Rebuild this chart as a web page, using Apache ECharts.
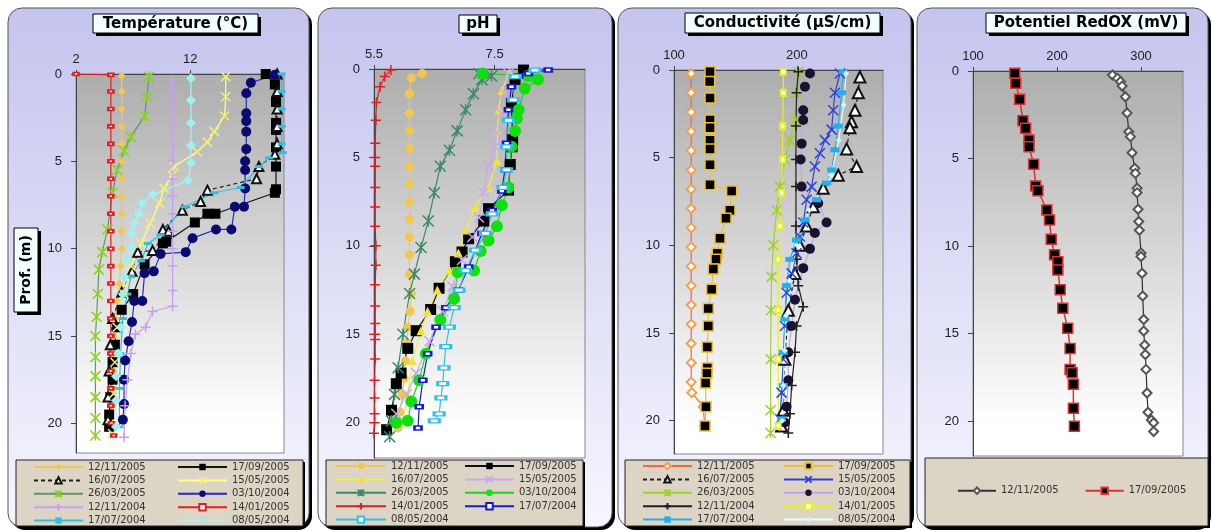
<!DOCTYPE html>
<html><head><meta charset="utf-8">
<script src="https://cdn.jsdelivr.net/npm/echarts@6/dist/echarts.min.js"></script>
<style>html,body{margin:0;padding:0;background:#fff}#c{width:1212px;height:531px}</style>
</head><body><div id="c"></div>
<script>
// ---------- DATA ----------
const tempTicks = [2, 12];
const phTicks = [5.5, 7.5];
const condTicks = [100, 200];
const redoxTicks = [100, 200, 300];
const depthTicks = [0, 5, 10, 15, 20];

const tempDates = ['12/11/2005','17/09/2005','16/07/2005','15/05/2005','26/03/2005','03/10/2004','12/11/2004','14/01/2005','17/07/2004','08/05/2004'];
const phDates   = ['12/11/2005','17/09/2005','16/07/2005','15/05/2005','26/03/2005','03/10/2004','14/01/2005','17/07/2004','08/05/2004'];
const condDates = ['12/11/2005','17/09/2005','16/07/2005','15/05/2005','26/03/2005','03/10/2004','12/11/2004','14/01/2005','17/07/2004','08/05/2004'];
const redoxDates = ['12/11/2005','17/09/2005'];

// Temperature (°C) vs depth (m)
const t1d = [0.1,1,2,3,4,5,6,7,8,9,10,11,12,13,14,15,16,17,18,19,20.3];
const t1v = [6.0,6.0,6.0,6.0,6.0,6.0,6.0,6.0,6.0,6.0,6.0,5.9,5.8,5.6,5.4,5.3,5.3,5.3,5.2,5.2,5.2];
const t2d = [0,0.6,1.6,2.8,3.2,4.2,5.3,6.6,6.8,8.0,8.0,8.5,9.6,9.7,10.9,12.6,13.5,14.5,15.5,16.5,17.5,18.5,19.5,20.2];
const t2v = [18.6,19.4,19.5,19.5,19.5,19.5,19.5,19.5,19.4,14.2,13.5,12.4,9.9,9.6,8.0,7.0,6.0,5.6,5.4,5.2,5.2,5.0,4.9,4.9];
const t3d = [0,1,2,3,4,4.6,5.3,6.0,6.65,7.3,7.8,8.9,9.0,10.1,10.2,11.3,12.5,14,15.5,17,18.5,19.8];
const t3v = [19.6,19.6,19.6,19.6,19.6,19.4,18.0,17.8,13.5,12.9,11.3,9.6,10.1,8.7,7.4,6.9,6.0,5.2,5.0,4.9,4.8,4.8];
const t4d = [0.15,1.3,2.4,3.3,3.9,4.45,5.3,5.8,6.55,7.4,8.55,9.7,11,12.6,14.5,16.5,18.3,20.6];
const t4v = [15.1,15.1,15.0,14.1,13.5,12.6,10.6,10.4,9.7,9.3,8.5,7.7,6.8,6.2,5.6,5.4,5.3,5.2];
const t5d = [0.15,1.3,2.4,3.6,4.4,5.5,6.8,8.9,10.2,11.2,12.6,13.9,15,16.2,17.3,18.5,19.7,20.7];
const t5v = [8.4,8.2,8.0,6.8,6.2,5.6,5.2,4.75,4.3,4.0,3.9,3.8,3.7,3.7,3.7,3.7,3.7,3.7];
const t6d = [0.05,0.5,1.1,2.25,2.7,3.3,4.3,5.0,5.5,6.55,7.6,7.6,8.9,8.9,9.4,10.2,10.3,11.3,11.4,13.0,13.0,14.2,15.3,16.4,17.5,18.9,19.8];
const t6v = [19.4,17.3,16.9,16.9,16.9,16.9,16.9,16.8,16.8,16.8,16.7,15.9,15.6,14.25,12.2,11.6,9.4,8.8,8.0,7.8,7.1,6.9,6.6,6.3,6.2,6.2,6.1];
const t7d = [0.35,1,2,3,4,5,6,7,8,9,10,11,12.4,13.3,13.6,14.5,14.9,16,17.5,19,20.8];
const t7v = [10.45,10.45,10.45,10.45,10.45,10.45,10.45,10.45,10.45,10.45,10.45,10.45,10.45,10.45,8.7,8.1,7.2,6.8,6.5,6.3,6.2];
const t8d = [0,0.05,1,2,3,4,5,6,7,8,9,10,11,12,13,14,15,16,17,18,19,20,20.7];
const t8v = [2.0,5.05,5.05,5.05,5.05,5.05,5.05,5.05,5.05,5.05,5.05,5.05,5.05,5.05,5.05,5.05,5.05,5.05,5.05,5.05,5.05,5.1,5.3];
const t9d = [0,1,2,3,4,4.5,4.8,5.3,6.5,6.8,7.6,9.2,9.7,10.7,11.6,12.6,14,16,18,20.2];
const t9v = [20.0,20.0,20.0,20.0,20.0,20.1,18.9,18.0,16.4,14.1,11.5,9.4,8.3,7.7,6.8,6.5,6.1,5.9,5.8,5.8];
const t10d = [0.25,1.5,2.8,4.1,5.1,6.1,6.9,7.4,8.0,8.55,9.1,9.9,10.65,11.6,12.6,14.5,16,17.3,18.7,20.2];
const t10v = [12.05,12.05,12.05,12.05,12.05,11.8,8.7,7.8,7.5,7.1,6.9,6.8,6.5,6.2,6.1,5.9,5.7,5.5,5.5,5.5];

// pH vs depth
const p1d = [0.25,0.5,1.4,2.5,3.5,4.5,5.5,6.5,7.5,8.5,9.5,10.5,11.6,12.7,13.7,14.6,15.5,16.5,17.5,18.4,19.4,20.3];
const p1v = [6.3,6.12,6.09,6.09,6.09,6.09,6.09,6.09,6.09,6.09,6.09,6.09,6.09,6.12,6.1,6.06,6.05,6.02,6.0,5.97,5.93,5.9];
const p2d = [0.06,0.6,1.95,4.0,4.4,5.4,6.85,7.9,8.6,9.6,10.35,10.9,12.4,13.6,14.8,15.8,17.2,17.8,19.3,20.4];
const p2v = [7.98,7.84,7.78,7.8,7.79,7.76,7.73,7.4,7.32,7.07,6.96,6.85,6.58,6.44,6.2,6.06,5.95,5.87,5.79,5.71];
const p3d = [0.2,1.2,2.3,3.5,5.2,6.7,7.8,9.1,10.4,11.4,12.5,13.7,14.8,16.5,18.4,19.9];
const p3v = [7.75,7.62,7.57,7.55,7.54,7.4,7.18,7.02,6.9,6.75,6.55,6.39,6.28,6.14,6.06,5.98];
const p4d = [0.25,1.4,2.5,3.6,4.4,5.5,7.0,8.4,9.5,10.8,12.3,13.7,15.4,17.2,18.4,19.5];
const p4v = [7.73,7.67,7.62,7.54,7.51,7.4,7.32,7.24,7.13,6.96,6.8,6.64,6.42,6.2,6.04,5.87];
const p5d = [0.25,0.4,0.6,1.4,2.3,3.5,4.6,5.5,7.0,8.6,10.1,11.6,12.7,15,16.9,18.4,19.9,20.8];
const p5v = [7.24,7.45,7.29,7.15,7.02,6.88,6.75,6.6,6.5,6.4,6.28,6.17,6.09,5.98,5.9,5.84,5.79,5.76];
const p6d = [0.25,0.4,0.6,1.1,2.3,2.8,3.5,4.4,6.7,7.7,8.9,9.7,10.3,11.4,11.5,13,14.2,16.1,17.6,18.8,19.9,20.0];
const p6v = [7.3,8.06,8.22,8.0,7.9,7.87,7.84,7.78,7.73,7.62,7.54,7.4,7.27,7.16,6.89,6.83,6.6,6.36,6.25,6.12,6.06,5.87];
const p7d = [0.06,0.43,1.0,1.9,2.9,4.2,5.0,5.5,6.7,7.8,8.9,10.0,11.1,12.2,13.4,14.4,15.0,15.3,16.4,17.6,18.6,19.5,20.0,20.6];
const p7v = [5.78,5.68,5.6,5.54,5.53,5.52,5.52,5.52,5.52,5.52,5.52,5.53,5.53,5.52,5.52,5.52,5.52,5.52,5.52,5.51,5.51,5.51,5.51,5.5];
const p8d = [0.06,0.25,0.4,1.0,2.3,4.2,5.7,6.9,8.0,9.3,11.2,12.5,13.5,14.6,16.1,17.6,19.1,20.3];
const p8v = [8.39,8.06,7.9,7.78,7.73,7.7,7.67,7.62,7.46,7.29,7.07,6.9,6.69,6.53,6.39,6.31,6.25,6.23];
const p9d = [0.06,0.43,1.75,2.9,4.4,5.7,6.7,8.2,9.3,10.25,11.4,12.5,13.5,14.6,15.7,16.9,17.8,18.6,19.5,19.9];
const p9v = [8.17,7.84,7.81,7.73,7.7,7.7,7.64,7.46,7.35,7.18,7.02,6.91,6.83,6.75,6.69,6.66,6.64,6.61,6.58,6.5];

// Conductivity (µS/cm) vs depth
const c1d = [0.2,1.3,2.4,3.5,4.6,5.7,6.8,7.9,9.0,10.1,11.2,12.3,13.4,14.5,15.6,16.7,17.8,18.4,19.2,20.3];
const c1v = [114,114,114,114,114,114,114,114,114,114,114,114,114,114,114,114,114,114.5,123.8,125];
const c2d = [0.1,0.66,1.6,2.85,3.3,4.0,4.5,5.4,6.55,6.9,8.0,8.45,9.6,10.45,10.8,11.35,12.5,13.6,14.6,15.8,17.0,17.3,17.85,19.2,20.3];
const c2v = [129.3,129,129.3,129.3,129.3,129.3,129.3,129.3,129.3,146.9,145.5,142.3,137.4,135.2,134.2,132,130.6,127.9,127.9,127.1,127.1,126.8,125.7,126,125.2];
const c3d = [0.4,1.3,2.3,2.95,3.3,4.5,5.5,6.0,6.75,7.8,8.9,10,11.6,13.7,16.5,19.4,20.3];
const c3v = [251.2,249.9,247.2,244.4,243.1,240.4,248.5,233.6,221.4,213.3,207.9,202.4,198.4,193,190.2,188.9,187.5];
const c4d = [0.2,1.3,2.3,3.4,4.0,4.75,5.5,6.65,7.4,8.7,9.5,10.45,11.6,12.7,14.6,16.5,18.4,19.9];
const c4v = [235,230.9,229.5,228.2,222.8,218.7,214.6,211.9,207.9,205.1,202.4,199.7,195.7,191.6,190.2,188.9,187.5,186.2];
const c5d = [0.1,1.3,2.85,4.0,5.1,6.65,8.0,10,11.8,13.7,16.5,19.4,20.7];
const c5v = [201,199.7,198.4,194.3,190.2,186.2,183.5,180.8,179.4,178.9,178.6,178.6,178.6];
const c6d = [0.2,0.95,2.3,2.85,4.2,5.1,6.65,7.6,8.7,9.3,10.2,11.3,13.1,14.6,16.1,17.7,19.2,20.1];
const c6v = [210.6,206.5,205.1,205.1,203.8,203,203.8,217.3,224.1,214.6,210.6,205.1,198.4,195.7,193,193,191.6,190.2];
const c7d = [0.1,1.3,3.2,5.1,6.65,8.9,10.8,12.3,13.5,14.6,16.1,18,19.6,20.7];
const c7v = [201.1,199.7,199.2,199.2,199.2,199.2,199.7,201.1,205.1,199.7,198.4,195.7,194.3,193];
const c8d = [0.1,1.3,3.2,5.1,7.0,8.9,10.8,13.7,16.5,20.3];
const c8v = [188.9,188.9,188.3,188.3,187.5,186.2,184.8,184.8,184.8,184.8];
const c9d = [0.1,1.3,3.2,4.55,5.7,6.45,7.4,8.55,9.7,10.8,12.3,14.2,16.1,18,19.9];
const c9v = [237.7,236.3,233.6,230.9,228.2,224.1,216,206.5,199.7,194.3,191.6,190.2,188.9,188.9,187.5];
const c10d = [0.2,2,4,6,8,10,12,14,16,18,20];
const c10v = [240,238,234,228,210,200,194,191,190,189,188];

// Potentiel RedOX (mV) vs depth
const r1d = [0.23,0.42,0.6,0.86,1.47,2.4,3.47,3.75,4.67,5.56,5.85,6.7,6.95,7.9,8.6,9.1,10.4,10.6,11.56,12.86,14.2,14.86,15.66,16.2,17.05,18.4,19.5,19.94,20.1,20.6];
const r1v = [266,272,275.6,277.5,281.4,283.4,285.4,287.4,289.3,292.5,293.3,295.3,295.3,296.5,297.3,298,300,300,301.2,302,303.2,303.2,304.4,305.2,306,307.2,308.3,312.3,315,315];
const r2d = [0.13,0.7,1.62,2.84,3.27,3.94,4.33,5.33,6.57,6.84,7.94,8.51,9.62,10.5,10.9,11.37,12.5,13.56,14.7,15.85,17.05,17.24,17.9,19.27,20.3];
const r2v = [149.7,150.9,155.6,159.5,162.7,166.7,166.7,172.2,174.6,177.3,188,191.1,193.1,197.1,201,201,203.8,206.9,212.8,215.6,215.6,218,219.5,219.5,220.7];

const tempSeries = [[t1v,t1d],[t2v,t2d],[t3v,t3d],[t4v,t4d],[t5v,t5d],[t6v,t6d],[t7v,t7d],[t8v,t8d],[t9v,t9d],[t10v,t10d]];
const phSeries = [[p1v,p1d],[p2v,p2d],[p3v,p3d],[p4v,p4d],[p5v,p5d],[p6v,p6d],[p7v,p7d],[p8v,p8d],[p9v,p9d]];
const condSeries = [[c1v,c1d],[c2v,c2d],[c3v,c3d],[c4v,c4d],[c5v,c5d],[c6v,c6d],[c7v,c7d],[c8v,c8d],[c9v,c9d],[c10v,c10d]];
const redoxSeries = [[r1v,r1d],[r2v,r2d]];

// ---------- STYLES ----------
const X = 'path://M0,0L10,10M10,0L0,10';
const PLUS = 'path://M5,0L5,10M0,5L10,5';
const STAR = 'path://M0,0L10,10M10,0L0,10M5,0L5,10';

const tempStyle = {
  '12/11/2005': {line:'#f0c850', sym:'diamond', size:8, fill:'#f0c850'},
  '17/09/2005': {line:'#111', sym:'rect', size:10, fill:'#000'},
  '16/07/2005': {line:'#222', dash:true, sym:'emptyTriangle', size:9, fill:'#111', bw:1},
  '15/05/2005': {line:'#ffff88', sym:X, size:9, fill:'#f4f070', bw:1.5},
  '26/03/2005': {line:'#5a9a70', sym:STAR, size:10, fill:'#8cd020', bw:1.5},
  '03/10/2004': {line:'#2828c8', sym:'circle', size:10, fill:'#0a0a70'},
  '12/11/2004': {line:'#c8a0f0', sym:PLUS, size:10, fill:'#c8a0f0', bw:1.5},
  '14/01/2005': {line:'#e02020', sym:'emptyRect', size:[5,3], fill:'#e02020', bw:1},
  '17/07/2004': {line:'#30c0e0', sym:'rect', size:[8,3], fill:'#30c0e0'},
  '08/05/2004': {line:'#b0f0f0', sym:'diamond', size:10, fill:'#a0f0f0'}
};
const phStyle = {
  '12/11/2005': {line:'#f0c850', sym:'circle', size:9, fill:'#f0c850'},
  '17/09/2005': {line:'#111', sym:'rect', size:11, fill:'#000'},
  '16/07/2005': {line:'#f0f040', sym:'triangle', size:9, fill:'#f0e040'},
  '15/05/2005': {line:'#c8a8f0', sym:X, size:10, fill:'#c8a8f0', bw:1.5},
  '26/03/2005': {line:'#3a8a6a', sym:STAR, size:11, fill:'#3a8a6a', bw:1.5},
  '03/10/2004': {line:'#20d020', sym:'circle', size:12, fill:'#10e010'},
  '14/01/2005': {line:'#d02020', sym:PLUS, size:10, fill:'#e02020', bw:1.5},
  '17/07/2004': {line:'#1818d0', sym:'emptyRect', size:[7,4], fill:'#1818d0', bw:1},
  '08/05/2004': {line:'#30c0e8', sym:'emptyRect', size:[10,4], fill:'#30c0e8', bw:1}
};
const condStyle = {
  '12/11/2005': {line:'#f06840', sym:'emptyDiamond', size:9, fill:'#f0a050', bw:1},
  '17/09/2005': {line:'#f0c030', sym:'rect', size:10, fill:'#000', stroke:'#f0c030', bw:1.5},
  '16/07/2005': {line:'#222', dash:true, sym:'emptyTriangle', size:11, fill:'#111', bw:1},
  '15/05/2005': {line:'#3040e0', sym:X, size:10, fill:'#3040e0', bw:1.5},
  '26/03/2005': {line:'#a0d030', sym:STAR, size:10, fill:'#a0d030', bw:1.5},
  '03/10/2004': {line:'#b8a8e8', sym:'circle', size:10, fill:'#1a1030'},
  '12/11/2004': {line:'#202020', sym:PLUS, size:10, fill:'#202020', bw:1.5},
  '14/01/2005': {line:'#e8f020', sym:'emptyRect', size:[5,6], fill:'#e8f020', bw:1},
  '17/07/2004': {line:'#20b0f0', sym:'rect', size:[9,5], fill:'#20b0f0'},
  '08/05/2004': {line:'#e0ffff', sym:'diamond', size:6, fill:'#d0f8f8'}
};
const redoxStyle = {
  '12/11/2005': {line:'#303030', sym:'emptyDiamond', size:9, fill:'#555', bw:1},
  '17/09/2005': {line:'#e03030', lw:1.5, sym:'rect', size:10, fill:'#000', stroke:'#e03030', bw:1.5}
};

// ---------- BUILD ----------
function mkSeries(grid, key, dates, sets, styles) {
  return dates.map((d, i) => {
    const st = styles[d];
    const vals = sets[i][0], deps = sets[i][1];
    return {
      type:'line', name:key + '|' + d, xAxisIndex:grid, yAxisIndex:grid,
      data: vals.map((v, j) => [v, deps[j]]),
      symbol: st.sym, symbolSize: st.size, showSymbol:true,
      lineStyle:{color:st.line, width:st.lw || 1.2, type: st.dash ? [4,3] : 'solid'},
      itemStyle:{color:st.fill, borderColor:st.stroke || st.fill, borderWidth:st.bw || 0},
      emphasis:{disabled:true}, silent:true, clip:true, animation:false
    };
  });
}
const AX = '#444';
function xAx(grid, min, max, interval) {
  return {type:'value', gridIndex:grid, position:'top', min:min, max:max, interval:interval,
    axisLine:{show:true, onZero:false, lineStyle:{color:AX}},
    axisTick:{show:true, length:4, lineStyle:{color:AX}},
    axisLabel:{margin:8, color:'#222', fontSize:13, fontFamily:'Liberation Sans', showMaxLabel:false,
      formatter: v => String(v)},
    splitLine:{show:false}};
}
function yAx(grid, max) {
  return {type:'value', gridIndex:grid, inverse:true, min:0, max:max, interval:5,
    axisLine:{show:true, onZero:false, lineStyle:{color:AX}},
    axisTick:{show:true, length:5, lineStyle:{color:AX}},
    axisLabel:{margin:14, color:'#222', fontSize:13, fontFamily:'Liberation Sans', showMaxLabel:false},
    splitLine:{show:false}};
}
const plotBg = new echarts.graphic.LinearGradient(0,0,0,1,[{offset:0,color:'#adadad'},{offset:0.92,color:'#ffffff'},{offset:1,color:'#ffffff'}]);
function grid(l, t, w, h) {
  return {left:l, top:t, width:w, height:h, show:true, backgroundColor:plotBg, borderColor:'#888', borderWidth:1, containLabel:false};
}
function leg(left, top, key, names, iw, orient, gap) {
  return {orient:orient || 'vertical', left:left, top:top, padding:0, itemGap:gap || 0,
    itemWidth:iw, itemHeight:8, selectedMode:false,
    data:names.map(n => key + '|' + n), formatter: n => n.split('|')[1],
    textStyle:{fontSize:10, lineHeight:13.4, color:'#333', fontFamily:'DejaVu Sans'}, z:5};
}

// panels / boxes
const panels = [[8,8,301,519],[318,8,294,519],[618,8,293,519],[917,8,291,519]];
const legBoxes = [[16,460,287,66],[326,460,257,66],[625,460,285,66],[925,458,283,68]];
const titles = [
  [93,14,165,19,'Température (°C)'],
  [459,15,38,18,'pH'],
  [685,13,195,20,'Conductivité (µS/cm)'],
  [986,13,200,20,'Potentiel RedOX (mV)']
];
const graphics = [];
const panelBg = new echarts.graphic.LinearGradient(0,0,0,1,[{offset:0,color:'#c4c4ee'},{offset:1,color:'#f6f6ff'}]);
panels.forEach(p => {
  graphics.push({type:'rect', z:-20, silent:true, shape:{x:p[0]+3,y:p[1]+3,width:p[2],height:p[3],r:14}, style:{fill:'#000'}});
  graphics.push({type:'rect', z:-19, silent:true, shape:{x:p[0],y:p[1],width:p[2],height:p[3],r:14}, style:{fill:panelBg, stroke:'#555', lineWidth:1}});
});
legBoxes.forEach(b => {
  graphics.push({type:'rect', z:2, silent:true, shape:{x:b[0]+2,y:b[1]+2,width:b[2],height:b[3]}, style:{fill:'#000'}});
  graphics.push({type:'rect', z:3, silent:true, shape:{x:b[0],y:b[1],width:b[2],height:b[3]}, style:{fill:'#dcd5c6', stroke:'#222', lineWidth:1}});
});
titles.forEach(t => {
  graphics.push({type:'rect', z:100, silent:true, shape:{x:t[0]+3,y:t[1]+3,width:t[2],height:t[3]}, style:{fill:'#000'}});
  graphics.push({type:'rect', z:101, silent:true, shape:{x:t[0],y:t[1],width:t[2],height:t[3]}, style:{fill:'#f2ffff', stroke:'#000', lineWidth:1}});
  graphics.push({type:'text', z:102, silent:true, x:t[0]+t[2]/2, y:t[1]+t[3]/2+0.5,
    style:{text:t[4], fill:'#000', font:'bold 15px "DejaVu Sans"', align:'center', verticalAlign:'middle', textAlign:'center', textVerticalAlign:'middle'}});
});
// Prof. (m) box
graphics.push({type:'rect', z:100, silent:true, shape:{x:17,y:231,width:24,height:84}, style:{fill:'#000'}});
graphics.push({type:'rect', z:101, silent:true, shape:{x:14,y:228,width:24,height:84}, style:{fill:'#f2ffff', stroke:'#000', lineWidth:1}});
graphics.push({type:'text', z:102, silent:true, x:26.5, y:270, rotation:Math.PI/2,
  style:{text:'Prof. (m)', fill:'#000', font:'bold 14px "DejaVu Sans"', align:'center', verticalAlign:'middle', textAlign:'center', textVerticalAlign:'middle'}});

const series = [].concat(
  mkSeries(0, 'T', tempDates, tempSeries, tempStyle),
  mkSeries(1, 'P', phDates, phSeries, phStyle),
  mkSeries(2, 'C', condDates, condSeries, condStyle),
  mkSeries(3, 'R', redoxDates, redoxSeries, redoxStyle)
);

const option = {
  animation:false,
  backgroundColor:'#ffffff',
  grid:[grid(76,74,208,379), grid(374,69,211,389), grid(674,70,209,384), grid(973,71,210,385)],
  xAxis:[xAx(0,tempTicks[0],20.2,tempTicks[1]-tempTicks[0]), xAx(1,phTicks[0],9.0,phTicks[1]-phTicks[0]),
         xAx(2,condTicks[0],270,condTicks[1]-condTicks[0]), xAx(3,redoxTicks[0],350,redoxTicks[1]-redoxTicks[0])],
  yAxis:[yAx(0,21.7), yAx(1,22.0), yAx(2,21.9), yAx(3,22.0)],
  legend:[
    leg(33,460.3,'T',['12/11/2005','16/07/2005','26/03/2005','12/11/2004','17/07/2004'],49),
    leg(177,460.3,'T',['17/09/2005','15/05/2005','03/10/2004','14/01/2005','08/05/2004'],49),
    leg(335,459.3,'P',['12/11/2005','16/07/2005','26/03/2005','14/01/2005','08/05/2004'],50),
    leg(464,459.3,'P',['17/09/2005','15/05/2005','03/10/2004','17/07/2004'],49),
    leg(642,459.3,'C',['12/11/2005','16/07/2005','26/03/2005','12/11/2004','17/07/2004'],49),
    leg(783,459.3,'C',['17/09/2005','15/05/2005','03/10/2004','14/01/2005','08/05/2004'],49),
    leg(957,484,'R',['12/11/2005','17/09/2005'],38,'horizontal',26)
  ],
  graphic:{elements:graphics},
  series:series
};
const chart = echarts.init(document.getElementById('c'), null, {renderer:'canvas'});
chart.setOption(option);
</script></body></html>
